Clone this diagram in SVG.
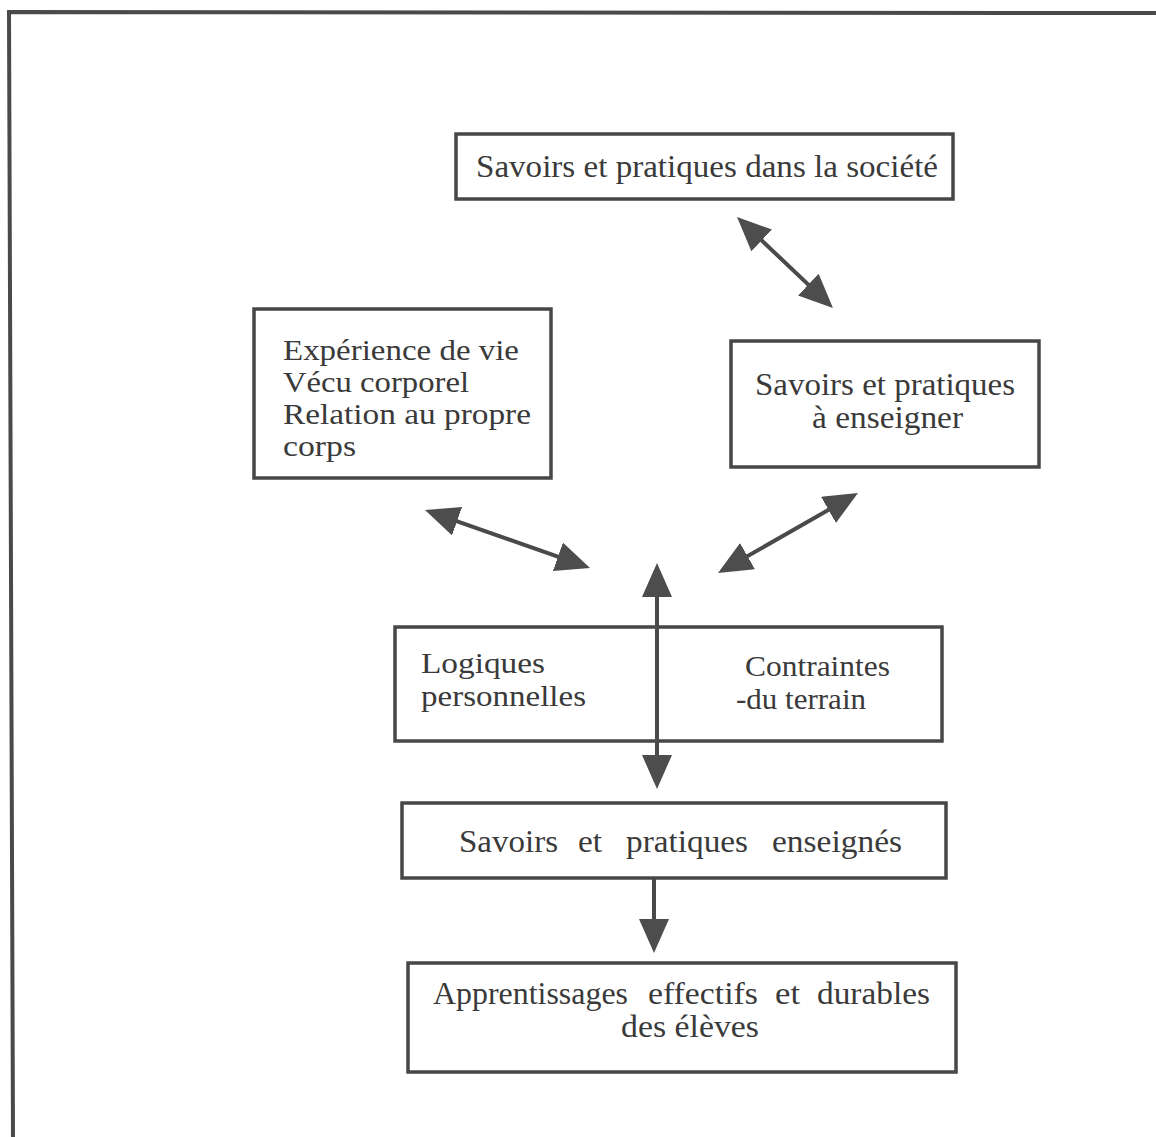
<svg xmlns="http://www.w3.org/2000/svg" width="1156" height="1137" viewBox="0 0 1156 1137">
<style>
.box{fill:none;stroke:#474747;stroke-width:3.5}
.t{font-family:"Liberation Serif","Times New Roman",serif;font-size:32px;fill:#3a3a3a}
.s{font-size:28.5px}
.con{stroke:#4a4a4a;stroke-width:4;fill:none}
.frame{stroke:#4a4a4a;stroke-width:4;fill:none}
</style>
<defs>
<marker id="ah" markerUnits="userSpaceOnUse" markerWidth="36" markerHeight="30" refX="24" refY="15" orient="auto-start-reverse">
<path d="M0,0 L34,15 L0,30 z" fill="#4d4d4d"/>
</marker>
</defs>
<rect width="1156" height="1137" fill="#ffffff"/>
<path class="frame" d="M1156,13 L9,12 L13,1137"/>

<g id="societe">
<rect class="box" x="456" y="134" width="497" height="65"/>
<text class="t" x="476" y="177" textLength="462" lengthAdjust="spacingAndGlyphs">Savoirs et pratiques dans la société</text>
</g>

<g id="experience">
<rect class="box" x="254" y="309" width="297" height="169"/>
<text class="t s" x="283" y="360" textLength="236" lengthAdjust="spacingAndGlyphs">Expérience de vie</text>
<text class="t s" x="283" y="392" textLength="186" lengthAdjust="spacingAndGlyphs">Vécu corporel</text>
<text class="t s" x="283" y="424" textLength="248" lengthAdjust="spacingAndGlyphs">Relation au propre</text>
<text class="t s" x="283" y="456" textLength="73" lengthAdjust="spacingAndGlyphs">corps</text>
</g>

<g id="a-enseigner">
<rect class="box" x="731" y="341" width="308" height="126"/>
<text class="t" x="755" y="395" textLength="260" lengthAdjust="spacingAndGlyphs">Savoirs et pratiques</text>
<text class="t" x="812" y="428" textLength="151" lengthAdjust="spacingAndGlyphs">à enseigner</text>
</g>

<g id="logiques">
<rect class="box" x="395" y="627" width="547" height="114"/>
<text class="t s" x="421" y="673" textLength="124" lengthAdjust="spacingAndGlyphs">Logiques</text>
<text class="t s" x="421" y="706" textLength="165" lengthAdjust="spacingAndGlyphs">personnelles</text>
<text class="t s" x="745" y="676" textLength="145" lengthAdjust="spacingAndGlyphs">Contraintes</text>
<text class="t s" x="736" y="709" textLength="130" lengthAdjust="spacingAndGlyphs">-du terrain</text>
</g>

<g id="enseignes">
<rect class="box" x="402" y="803" width="544" height="75"/>
<text class="t" y="852"><tspan x="459" textLength="99" lengthAdjust="spacingAndGlyphs">Savoirs</tspan><tspan x="578" textLength="24" lengthAdjust="spacingAndGlyphs">et</tspan><tspan x="626" textLength="122" lengthAdjust="spacingAndGlyphs">pratiques</tspan><tspan x="772" textLength="130" lengthAdjust="spacingAndGlyphs">enseignés</tspan></text>
</g>

<g id="apprentissages">
<rect class="box" x="408" y="963" width="548" height="109"/>
<text class="t" y="1004"><tspan x="433" textLength="195" lengthAdjust="spacingAndGlyphs">Apprentissages</tspan><tspan x="648" textLength="110" lengthAdjust="spacingAndGlyphs">effectifs</tspan><tspan x="775" textLength="25" lengthAdjust="spacingAndGlyphs">et</tspan><tspan x="817" textLength="113" lengthAdjust="spacingAndGlyphs">durables</tspan></text>
<text class="t" x="621" y="1037" textLength="138" lengthAdjust="spacingAndGlyphs">des élèves</text>
</g>

<g id="connectors">
<line class="con" x1="744.3" y1="223.9" x2="825.7" y2="301.1" marker-start="url(#ah)" marker-end="url(#ah)"/>
<line class="con" x1="434.4" y1="513.3" x2="580.6" y2="564.7" marker-start="url(#ah)" marker-end="url(#ah)"/>
<line class="con" x1="849.3" y1="498.0" x2="726.7" y2="568.0" marker-start="url(#ah)" marker-end="url(#ah)"/>
<line class="con" x1="657" y1="573" x2="657" y2="779" marker-start="url(#ah)" marker-end="url(#ah)"/>
<line class="con" x1="654" y1="879" x2="654" y2="943" marker-end="url(#ah)"/>
</g>
</svg>
